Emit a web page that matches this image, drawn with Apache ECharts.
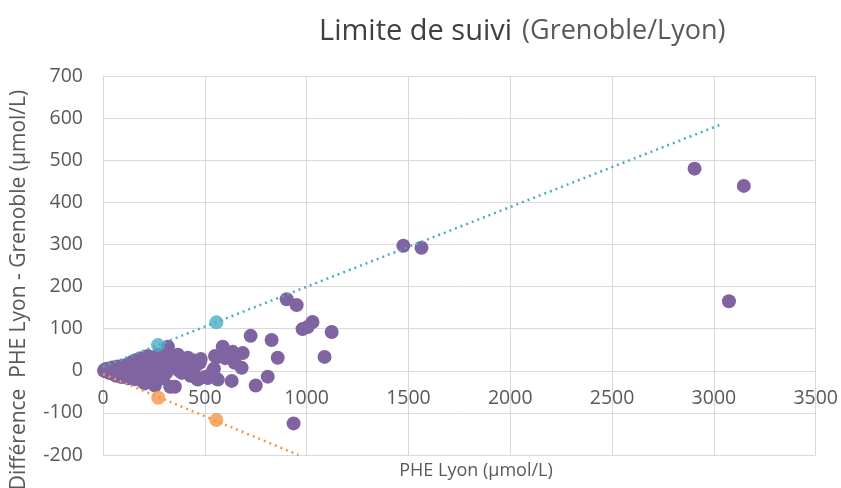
<!DOCTYPE html>
<html>
<head>
<meta charset="utf-8">
<script src="https://cdn.jsdelivr.net/npm/echarts@6/dist/echarts.min.js"></script>
<style>html,body{margin:0;padding:0;background:#fff;overflow:hidden;}#c{width:841px;height:488px;}</style>
</head>
<body>
<div id="c"></div>
<script>
// PHE Lyon (x) vs Différence PHE Lyon - Grenoble (y)
const purplePoints = [
  [5,0],[10,3],[15,-2],[20,5],[30,-5],[35,2],[45,8],[50,-8],[60,4],[65,-12],[70,10],[80,-3],[85,6],[90,-15],
  [100,12],[105,0],[110,-8],[120,15],[125,-18],[130,5],[140,20],[145,-5],[150,10],[155,-20],[160,25],[170,0],
  [175,12],[180,-12],[185,30],[190,18],[195,-25],[200,8],[205,-30],[210,22],[215,-8],[220,35],[225,15],[230,-15],
  [235,5],[240,28],[245,-20],[250,12],[255,-35],[260,20],[265,0],[270,38],[275,-10],[280,25],[285,10],[300,15],
  [295,-18],[305,32],[310,-5],[315,22],[319,57],[320,5],[330,-38],[335,28],[340,10],[350,18],[353,9],[353,-38],
  [360,35],[368,38],[370,2],[380,15],[387,19],[387,-5],[400,22],[417,31],[420,8],[430,-12],[440,25],[451,9],
  [460,-18],[466,-21],[475,19],[480,28],[500,-15],[515,-17],[539,-2],[545,5],[550,35],[564,-21],[564,33],
  [588,57],[600,30],[632,-24],[637,45],[647,19],[681,7],[686,42],[725,83],[750,-35],[809,-14],[828,73],
  [858,31],[902,170],[936,-125],[951,156],[980,99],[1005,104],[1029,116],[1088,33],[1123,92],
  [1475,297],[1564,292],[2905,480],[3074,165],[3147,439]
];
const bluePoints = [[270,61],[557,115]];
const orangePoints = [[271,-64],[557,-117]];
const blueTrend = [[0,10],[3035,585]];
const orangeTrend = [[0,-8],[960,-200]];

const xMin = 0, xMax = 3500, xStep = 500;
const yMin = -200, yMax = 700, yStep = 100;

const chart = echarts.init(document.getElementById('c'));
const FONT = "'Open Sans'";
const labelColor = '#595959';
// grid geometry: x axis drawn where y = 0 (Excel style)
const gridTop = 76, gridBottom = 33, chartH = 488;
const plotH = chartH - gridTop - gridBottom;
const zeroOffset = -plotH * (0 - yMin) / (yMax - yMin);
chart.setOption({
  animation: false,
  title: {
    text: '{a|Limite de suivi}  {b|(Grenoble/Lyon)}',
    left: 314, top: 12,
    textStyle: {
      rich: {
        a: {fontFamily: FONT, fontSize: 29, fontWeight: 'normal', color: '#404040'},
        b: {fontFamily: FONT, fontSize: 27, fontWeight: 'normal', color: '#595959'}
      }
    }
  },
  grid: {left: 103, right: 24, top: gridTop, bottom: gridBottom, containLabel: false},
  xAxis: {
    type: 'value', min: xMin, max: xMax, interval: xStep,
    offset: zeroOffset,
    axisLine: {show: true, onZero: false, lineStyle: {color: '#d9d9d9', width: 1}},
    axisTick: {show: false},
    splitLine: {show: true, lineStyle: {color: '#d9d9d9', width: 1}},
    axisLabel: {color: labelColor, fontFamily: FONT, fontSize: 19.5, margin: 18, formatter: v => String(v)}
  },
  yAxis: {
    type: 'value', min: yMin, max: yMax, interval: yStep,
    axisLine: {show: true, onZero: false, lineStyle: {color: '#d9d9d9', width: 1}},
    axisTick: {show: false},
    splitLine: {show: true, lineStyle: {color: '#d9d9d9', width: 1}},
    axisLabel: {color: labelColor, fontFamily: FONT, fontSize: 19.5, margin: 20}
  },
  graphic: [
    {type: 'text', x: 476, y: 471, style: {text: 'PHE Lyon (µmol/L)', fill: labelColor, font: '18px ' + FONT, textAlign: 'center', textVerticalAlign: 'middle'}},
    {type: 'text', x: 19, y: 290, rotation: Math.PI / 2, style: {text: 'Différence  PHE Lyon - Grenoble (µmol/L)', fill: labelColor, font: '21px ' + FONT, textAlign: 'center', textVerticalAlign: 'middle'}}
  ],
  series: [
    {type: 'line', data: blueTrend, symbol: 'none', lineStyle: {color: '#4bacc6', width: 2.5, type: [2, 4]}, z: 3, silent: true},
    {type: 'line', data: orangeTrend, symbol: 'none', lineStyle: {color: '#f79646', width: 2.5, type: [2, 4]}, z: 3, silent: true},
    {type: 'scatter', data: purplePoints, symbolSize: 14, itemStyle: {color: '#8064a2', opacity: 1}, z: 2},
    {type: 'scatter', data: bluePoints, symbolSize: 14, itemStyle: {color: '#4bacc6'}, z: 4},
    {type: 'scatter', data: orangePoints, symbolSize: 14, itemStyle: {color: '#f79646'}, z: 4}
  ]
});
</script>
</body>
</html>
